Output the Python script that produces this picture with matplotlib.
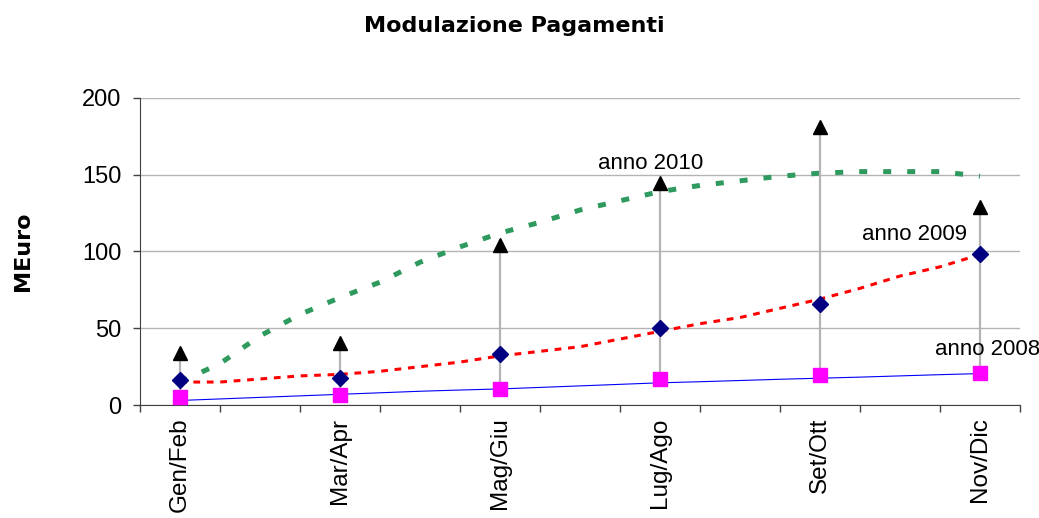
import numpy as np
import matplotlib.pyplot as plt

categories = ["Gen/Feb", "Mar/Apr", "Mag/Giu", "Lug/Ago", "Set/Ott", "Nov/Dic"]
anno_2008 = [5.0, 6.5, 10.4, 17.0, 19.5, 20.8]
anno_2009 = [16.3, 17.4, 33.0, 50.0, 65.6, 98.2]
anno_2010 = [33.7, 40.2, 104.2, 144.4, 181.3, 129.2]

# trend curves, read every quarter of a category step
trend_x = np.arange(0, 5.01, 0.25)
trend_2010 = [15, 27, 45, 59, 70, 80, 93, 103, 112, 119, 127, 133, 139, 143, 146,
              149, 151, 152, 152, 152, 149]
trend_2009 = [15, 15, 17, 19, 20, 22, 25, 28, 32, 35, 38, 43, 48, 53, 57, 63, 69,
              76, 84, 90, 98]
trend_2008 = [3, 4, 5, 6, 7, 8, 9, 9.8, 10.5, 11.5, 12.5, 13.5, 14.5, 15.2, 16,
              16.8, 17.5, 18.2, 19, 19.8, 20.5]

plt.rcParams["font.family"] = ["Liberation Sans", "DejaVu Sans"]

fig = plt.figure(figsize=(10.39, 5.18), dpi=100)
ax = fig.add_axes([0.1347, 0.218, 0.847, 0.593])

x = np.arange(len(categories))

ax.plot(trend_x, trend_2010, color="#2e9a5e", lw=3.6, dashes=(1.6, 3.2),
        dash_capstyle="butt", zorder=2)
ax.plot(trend_x, trend_2009, color="#ff0000", lw=2.2, dashes=(2.2, 2.2), zorder=2)
ax.plot(trend_x, trend_2008, color="#0000ff", lw=0.8, zorder=2)

ax.vlines(x, anno_2008, anno_2010, color="#b4b4b4", lw=1.6, zorder=3)
ax.plot(x, anno_2008, "s", color="#ff00ff", ms=9.5, ls="none", zorder=4)
ax.plot(x, anno_2009, "D", color="#000080", ms=8.5, ls="none", zorder=4)
ax.plot(x, anno_2010, "^", color="black", ms=10.5, ls="none", zorder=4)

ax.text(2.61, 157, "anno 2010", fontsize=16, va="center", ha="left")
ax.text(4.26, 111, "anno 2009", fontsize=16, va="center", ha="left")
ax.text(4.72, 36.5, "anno 2008", fontsize=16, va="center", ha="left")

ax.set_xlim(-0.25, 5.25)
ax.set_ylim(0, 200)
ax.set_yticks([0, 50, 100, 150, 200])
ax.yaxis.grid(True, color="#b4b4b4", lw=1)
ax.set_axisbelow(True)

ax.set_xticks(x)
ax.set_xticklabels(categories, rotation=90, fontsize=17.5)
ax.set_xticks(np.arange(-0.25, 5.3, 0.5), minor=True)
ax.tick_params(axis="x", which="major", length=0, pad=9)
ax.tick_params(axis="x", which="minor", length=5, width=1, color="#404040")
ax.tick_params(axis="y", labelsize=17, length=5, width=1, color="#404040", pad=8.5)

for s in ["top", "right"]:
    ax.spines[s].set_visible(False)
for s in ["left", "bottom"]:
    ax.spines[s].set_color("#404040")

ax.set_ylabel("MEuro", fontsize=16, fontweight="bold", family="DejaVu Sans")
ax.yaxis.set_label_coords(-0.122, 0.5)
fig.suptitle("Modulazione Pagamenti", fontsize=16, fontweight="bold",
             family="DejaVu Sans", x=0.495, y=0.95, va="center")

fig.savefig("out.png", dpi=100)
